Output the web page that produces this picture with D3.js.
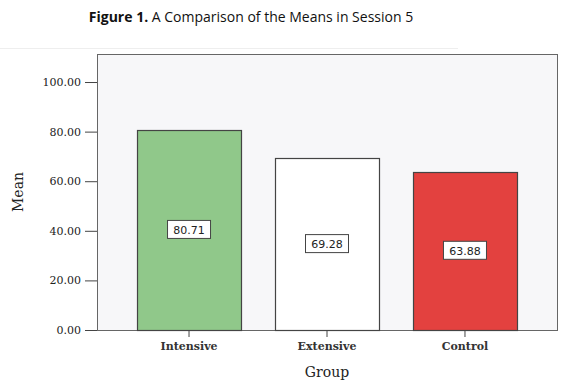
<!DOCTYPE html>
<meta charset="utf-8">
<style>
body { margin: 0; background: #fff; }
.title { font-family: "Open Sans", sans-serif; font-size: 14px; fill: #111; }
.axis text { font-family: "DejaVu Serif", serif; font-size: 11px; fill: #222; }
.axis path, .axis line { stroke: #444; }
.lbl { font-family: "DejaVu Sans", sans-serif; font-size: 11px; fill: #222; }
</style>
<body>
<script src="https://cdn.jsdelivr.net/npm/d3@7"></script>
<script>

// data
var groups = ["Intensive", "Extensive", "Control"];
var means = [80.71, 69.28, 63.88];
var fills = ["#90c88a", "#ffffff", "#e3413f"];
var yTicks = [0, 20, 40, 60, 80, 100];

var W = 580, H = 388;
var margin = {top: 54, right: 23, bottom: 58, left: 97},
    width = W - margin.left - margin.right,
    height = H - margin.top - margin.bottom;

var svg = d3.select("body").append("svg")
    .attr("width", W)
    .attr("height", H);

// title
var title = svg.append("text")
    .attr("class", "title")
    .attr("x", 251)
    .attr("y", 22)
    .attr("text-anchor", "middle");
title.append("tspan").attr("font-weight", "bold").text("Figure 1.");
title.append("tspan").text(" A Comparison of the Means in Session 5");

// faint rule under the title
svg.append("line")
    .attr("x1", 0).attr("x2", 458)
    .attr("y1", 48.5).attr("y2", 48.5)
    .attr("stroke", "#eeeeee");

var g = svg.append("g")
    .attr("transform", "translate(" + margin.left + "," + margin.top + ")");

var x = d3.scaleBand()
    .domain(groups)
    .range([0, width])
    .paddingInner(0.246)
    .paddingOuter(0.29);

var y = d3.scaleLinear()
    .domain([0, 111.3])
    .range([height, 0]);

// plot background + frame
g.append("rect")
    .attr("x", 0.5).attr("y", 0.5)
    .attr("width", width).attr("height", height)
    .attr("fill", "#f7f7f9")
    .attr("stroke", "#666");

// bars
g.selectAll(".bar")
    .data(groups)
    .enter().append("rect")
      .attr("class", "bar")
      .attr("x", function(d) { return Math.round(x(d)) + 0.5; })
      .attr("y", function(d, i) { return Math.round(y(means[i])) + 0.5; })
      .attr("width", Math.round(x.bandwidth()))
      .attr("height", function(d, i) { return height - Math.round(y(means[i])); })
      .attr("fill", function(d, i) { return fills[i]; })
      .attr("stroke", "#444")
      .attr("stroke-width", 1.2);

// value labels in boxes at mid bar
var lab = g.selectAll(".vlab")
    .data(groups)
    .enter().append("g")
      .attr("class", "vlab")
      .attr("transform", function(d, i) {
        return "translate(" + (x(d) + x.bandwidth() / 2) + "," + ((y(means[i]) + height) / 2) + ")";
      });

lab.append("rect")
    .attr("x", -21.5).attr("y", -9.5)
    .attr("width", 43).attr("height", 18)
    .attr("fill", "#fff")
    .attr("stroke", "#444");

lab.append("text")
    .attr("class", "lbl")
    .attr("text-anchor", "middle")
    .attr("dy", "0.36em")
    .text(function(d, i) { return means[i].toFixed(2); });

// y axis
g.append("g")
    .attr("class", "axis")
    .call(d3.axisLeft(y).tickValues(yTicks).tickSize(12).tickSizeOuter(0)
      .tickFormat(function(d) { return d.toFixed(2); }))
    .call(function(a) { a.select(".domain").remove(); })
    .selectAll("text").attr("dx", "-1px");

// x axis
g.append("g")
    .attr("class", "axis")
    .attr("transform", "translate(0," + height + ")")
    .call(d3.axisBottom(x).tickSize(7).tickSizeOuter(0))
    .call(function(a) { a.select(".domain").remove(); })
    .selectAll("text").attr("dy", "0.95em").attr("font-weight", "bold").style("fill", "#333");

// axis titles
g.append("text")
    .attr("transform", "rotate(-90)")
    .attr("x", -(192 - margin.top))
    .attr("y", -margin.left + 23)
    .attr("text-anchor", "middle")
    .style("font-family", "DejaVu Serif, serif")
    .style("font-size", "14px")
    .style("fill", "#222")
    .text("Mean");

g.append("text")
    .attr("x", width / 2)
    .attr("y", height + 47)
    .attr("text-anchor", "middle")
    .style("font-family", "DejaVu Serif, serif")
    .style("font-size", "14px")
    .style("fill", "#222")
    .text("Group");

</script>
</body>
